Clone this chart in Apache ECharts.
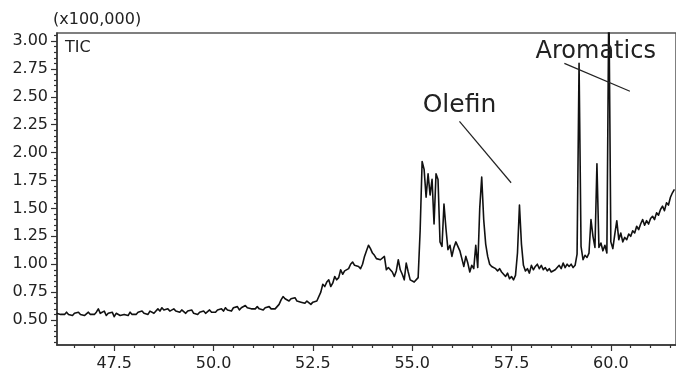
<!DOCTYPE html>
<html>
<head>
<meta charset="utf-8">
<script src="https://cdn.jsdelivr.net/npm/echarts@6/dist/echarts.min.js"></script>
<style>html,body{margin:0;padding:0;background:#fff}#chart{width:676px;height:372px}</style>
</head>
<body>
<div id="chart"></div>
<script>
// Retention time sampling (min)
const sampleStart = 46.05;
const sampleStep = 0.05;
// TIC intensity (x100,000), one value per sample
const tic = [
  0.56,0.57,0.55,0.56,0.55,0.57,0.55,0.56,0.54,0.56,0.55,0.57,0.55,0.56,0.54,0.55,0.57,0.55,0.56,
  0.55,0.57,0.60,0.56,0.55,0.58,0.54,0.56,0.55,0.57,0.53,0.56,0.55,0.54,0.53,0.55,0.56,0.54,0.57,0.55,
  0.56,0.55,0.57,0.56,0.58,0.56,0.57,0.55,0.58,0.57,0.56,0.58,0.60,0.58,0.61,0.59,0.58,0.60,0.58,0.59,
  0.60,0.58,0.59,0.57,0.59,0.58,0.56,0.58,0.57,0.59,0.56,0.57,0.55,0.57,0.56,0.58,0.56,0.57,0.59,0.57,
  0.58,0.57,0.59,0.58,0.60,0.58,0.61,0.59,0.60,0.58,0.61,0.60,0.62,0.59,0.61,0.60,0.63,0.61,0.62,0.60,
  0.61,0.60,0.62,0.60,0.61,0.59,0.61,0.60,0.62,0.60,0.61,0.60,0.62,0.64,0.68,0.71,0.69,0.70,0.67,0.69,
  0.68,0.70,0.67,0.68,0.66,0.67,0.65,0.67,0.66,0.64,0.66,0.65,0.67,0.66,0.75,0.82,0.80,0.84,0.86,0.80,
  0.83,0.89,0.86,0.88,0.95,0.91,0.94,0.93,0.96,1.00,1.02,0.99,1.00,0.98,0.96,1.00,1.07,1.12,1.17,1.14,
  1.10,1.08,1.05,1.06,1.04,1.05,1.07,0.95,0.97,0.98,0.93,0.89,0.94,1.04,0.95,0.91,0.86,1.01,0.93,0.86,
  0.85,0.84,0.85,0.88,1.30,1.92,1.85,1.60,1.81,1.62,1.76,1.36,1.81,1.76,1.20,1.16,1.54,1.32,1.13,1.17,
  1.07,1.15,1.20,1.21,1.12,1.05,0.98,1.07,1.01,0.93,0.99,0.96,1.17,0.97,1.50,1.78,1.40,1.18,1.07,1.00,
  0.98,0.97,0.96,0.94,0.96,0.93,0.91,0.89,0.92,0.87,0.89,0.86,0.90,1.10,1.53,1.18,0.99,0.94,0.96,0.92,
  0.99,0.95,0.98,1.00,0.96,0.99,0.95,0.97,0.94,0.96,0.93,0.92,0.95,0.97,0.99,0.96,1.01,0.97,1.00,0.98,
  1.00,0.97,0.99,1.09,2.80,1.16,1.04,1.08,1.06,1.10,1.40,1.25,1.15,1.90,1.15,1.19,1.12,1.17,1.10,3.40,
  1.20,1.14,1.27,1.39,1.22,1.28,1.20,1.24,1.22,1.27,1.25,1.30,1.28,1.34,1.31,1.36,1.40,1.35,1.39,1.36,
  1.41,1.43,1.40,1.46,1.44,1.49,1.52,1.48,1.55,1.53,1.60,1.64,1.67
];
// Axis ticks
const xMajorTicks = [47.5, 50.0, 52.5, 55.0, 57.5, 60.0];
const xMinorTicks = [46.5, 47.0, 48.0, 48.5, 49.0, 49.5, 50.5, 51.0, 51.5, 52.0, 53.0, 53.5, 54.0, 54.5, 55.5, 56.0, 56.5, 57.0, 58.0, 58.5, 59.0, 59.5, 60.5, 61.0, 61.5];
const yMajorTicks = [0.50, 0.75, 1.00, 1.25, 1.50, 1.75, 2.00, 2.25, 2.50, 2.75, 3.00];
const yMinorTicks = [0.30,0.35,0.40,0.45,0.55,0.60,0.65,0.70,0.80,0.85,0.90,0.95,1.05,1.10,1.15,1.20,1.30,1.35,1.40,1.45,1.55,1.60,1.65,1.70,1.80,1.85,1.90,1.95,2.05,2.10,2.15,2.20,2.30,2.35,2.40,2.45,2.55,2.60,2.65,2.70,2.80,2.85,2.90,2.95,3.05];
const xRange = [46.06, 61.64];
const yRange = [0.276, 3.072];
// Annotations (data units)
const olefinLeader = [[56.19, 2.28], [57.49, 1.73]];
const aromaticsLeader = [[58.83, 2.80], [60.48, 2.55]];
const olefinLabelAt = [56.19, 2.42];
const aromaticsLabelAt = [59.62, 2.90];

const FONT = 'DejaVu Sans';
const seriesData = tic.map((v, i) => [+(sampleStart + sampleStep * i).toFixed(2), v]);

const chart = echarts.init(document.getElementById('chart'), null, {renderer: 'canvas'});
chart.setOption({
  animation: false,
  backgroundColor: '#fff',
  title: [
    {text: '(x100,000)', left: 53, top: 12, padding: 0,
     textStyle: {fontFamily: FONT, fontSize: 16, fontWeight: 'normal', color: '#222'}},
    {text: 'TIC', left: 65, top: 40, padding: 0,
     textStyle: {fontFamily: FONT, fontSize: 16, fontWeight: 'normal', color: '#222'}}
  ],
  grid: {left: 57, right: -2, top: 33, bottom: 27, show: true, borderColor: '#555', borderWidth: 1.5, backgroundColor: 'transparent'},
  xAxis: [
    {type: 'value', min: xRange[0], max: xRange[1], position: 'bottom',
     axisLine: {show: true, onZero: false, lineStyle: {color: '#333', width: 1.5}},
     axisTick: {show: true, length: 6, customValues: xMajorTicks, lineStyle: {color: '#333', width: 1.2}},
     axisLabel: {show: true, customValues: xMajorTicks, margin: 11, formatter: v => v.toFixed(1),
                 fontFamily: FONT, fontSize: 16, color: '#222'},
     splitLine: {show: false}},
    {type: 'value', min: xRange[0], max: xRange[1], position: 'bottom',
     axisLine: {show: false, onZero: false},
     axisTick: {show: true, length: 3, customValues: xMinorTicks, lineStyle: {color: '#333', width: 1.2}},
     axisLabel: {show: false},
     splitLine: {show: false}}
  ],
  yAxis: [
    {type: 'value', min: yRange[0], max: yRange[1], position: 'left',
     axisLine: {show: true, onZero: false, lineStyle: {color: '#333', width: 1.5}},
     axisTick: {show: true, length: 6, customValues: yMajorTicks, lineStyle: {color: '#333', width: 1.2}},
     axisLabel: {show: true, customValues: yMajorTicks, margin: 9, formatter: v => v.toFixed(2),
                 fontFamily: FONT, fontSize: 16, color: '#222'},
     splitLine: {show: false}},
    {type: 'value', min: yRange[0], max: yRange[1], position: 'left',
     axisLine: {show: false, onZero: false},
     axisTick: {show: true, length: 3, customValues: yMinorTicks, lineStyle: {color: '#333', width: 1.2}},
     axisLabel: {show: false},
     splitLine: {show: false}}
  ],
  series: [{
    type: 'line', name: 'TIC', xAxisIndex: 0, yAxisIndex: 0,
    data: seriesData, showSymbol: false, symbol: 'none', clip: true, sampling: null,
    lineStyle: {color: '#111', width: 1.6, join: 'round'},
    markLine: {
      silent: true, symbol: ['none', 'none'], animation: false,
      label: {show: false},
      lineStyle: {color: '#222', width: 1.2, type: 'solid'},
      data: [
        [{coord: olefinLeader[0]}, {coord: olefinLeader[1]}],
        [{coord: aromaticsLeader[0]}, {coord: aromaticsLeader[1]}]
      ]
    },
    markPoint: {
      silent: true, symbol: 'circle', symbolSize: 1, animation: false,
      itemStyle: {color: 'rgba(0,0,0,0)'},
      label: {show: true, position: 'inside', formatter: p => p.name, fontFamily: FONT, color: '#222'},
      data: [
        {name: 'Olefin', coord: olefinLabelAt, label: {fontSize: 25}},
        {name: 'Aromatics', coord: aromaticsLabelAt, label: {fontSize: 24}}
      ]
    }
  }]
});
</script>
</body>
</html>
